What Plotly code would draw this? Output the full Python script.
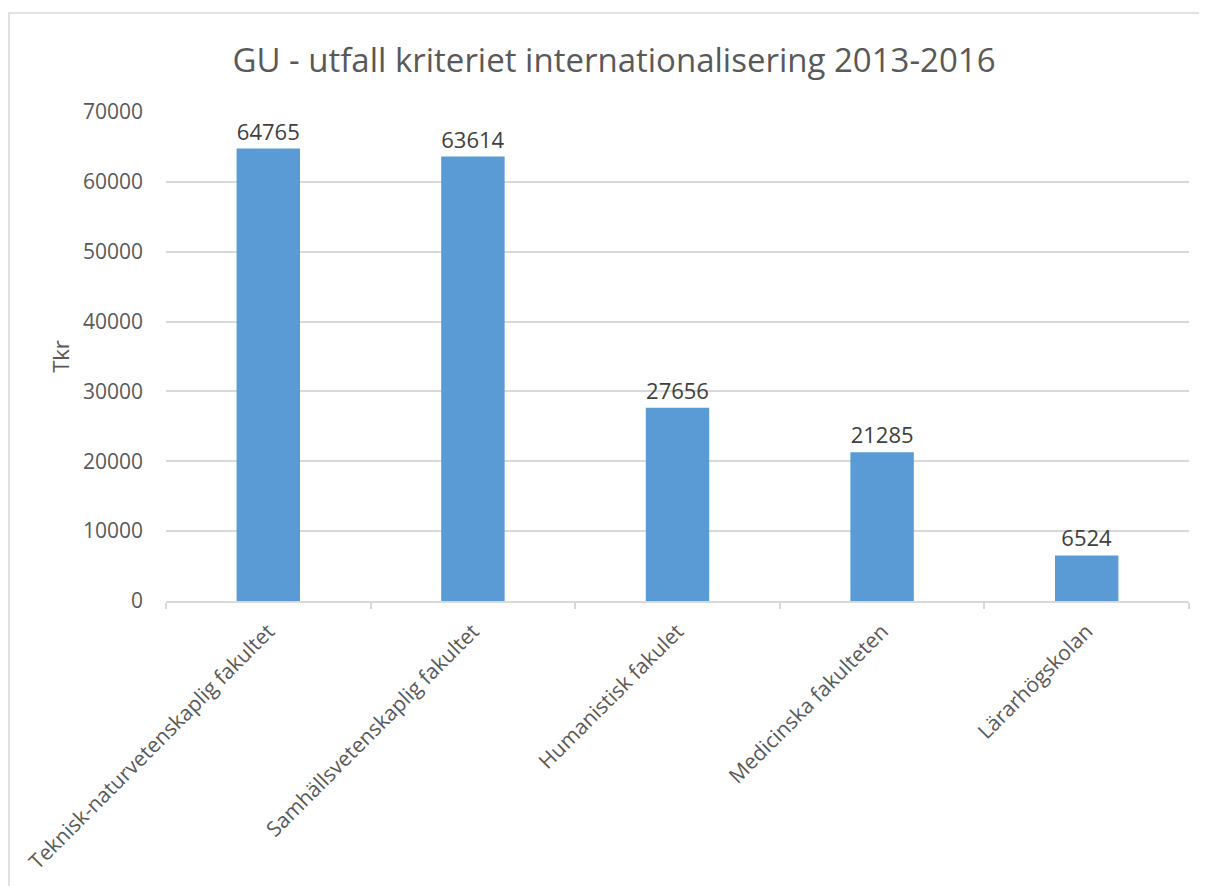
import plotly.graph_objects as go

categories = [
    "Teknisk-naturvetenskaplig fakultet",
    "Samhällsvetenskaplig fakultet",
    "Humanistisk fakulet",
    "Medicinska fakulteten",
    "Lärarhögskolan",
]
values = [64765, 63614, 27656, 21285, 6524]
y_ticks = [0, 10000, 20000, 30000, 40000, 50000, 60000, 70000]

FONT = "Open Sans"
OFF = 8  # page body margin
W, H = 1207 - OFF, 886 - OFF
L, T = 166 - OFF, 112 - OFF
pw, ph = 1023, 489
R, B = W - L - pw, H - T - ph

fig = go.Figure()
fig.add_trace(go.Bar(
    x=categories, y=values,
    marker=dict(color="#5b9bd5", line=dict(width=0)),
    text=[str(v) for v in values],
    textposition="outside",
    textfont=dict(family=FONT, size=22, color="#404040"),
    cliponaxis=False,
))

def px_x(p):
    return (p - OFF - L) / pw

def px_y(p):
    return (T + ph - (p - OFF)) / ph

fig.update_layout(
    width=W, height=H,
    margin=dict(l=L, r=R, t=T, b=B, autoexpand=False),
    paper_bgcolor="white", plot_bgcolor="white",
    bargap=0.69,
    showlegend=False,
    title=dict(
        text="GU - utfall kriteriet internationalisering 2013-2016",
        font=dict(family=FONT, size=33, color="#595959"),
        x=(614 - OFF) / W, xanchor="center", xref="container",
        y=1 - (60 - OFF) / H, yanchor="middle", yref="container",
    ),
    xaxis=dict(
        type="category",
        automargin=False,
        tickangle=-45,
        tickfont=dict(family=FONT, size=21, color="#595959"),
        showgrid=False,
        showline=True, linecolor="#d9d9d9", linewidth=1.5,
        ticks="outside", tickson="boundaries", ticklen=6,
        tickcolor="#d9d9d9", tickwidth=1.5,
        ticklabelstandoff=8,
    ),
    yaxis=dict(
        range=[0, 70000],
        automargin=False,
        tickvals=y_ticks,
        tickformat="d",
        tickfont=dict(family=FONT, size=21, color="#595959"),
        showgrid=True, gridcolor="#d9d9d9", gridwidth=1.5,
        zeroline=False, showline=False,
        ticks="", ticklabelstandoff=22,
        title=dict(text="Tkr", font=dict(family=FONT, size=22, color="#595959"), standoff=7),
    ),
    shapes=[
        dict(type="rect", xref="paper", yref="paper",
             x0=px_x(9), x1=px_x(1220), y0=px_y(900), y1=px_y(13),
             line=dict(color="#d9d9d9", width=1.5), layer="below"),
    ],
)

fig.write_html("out.html")
